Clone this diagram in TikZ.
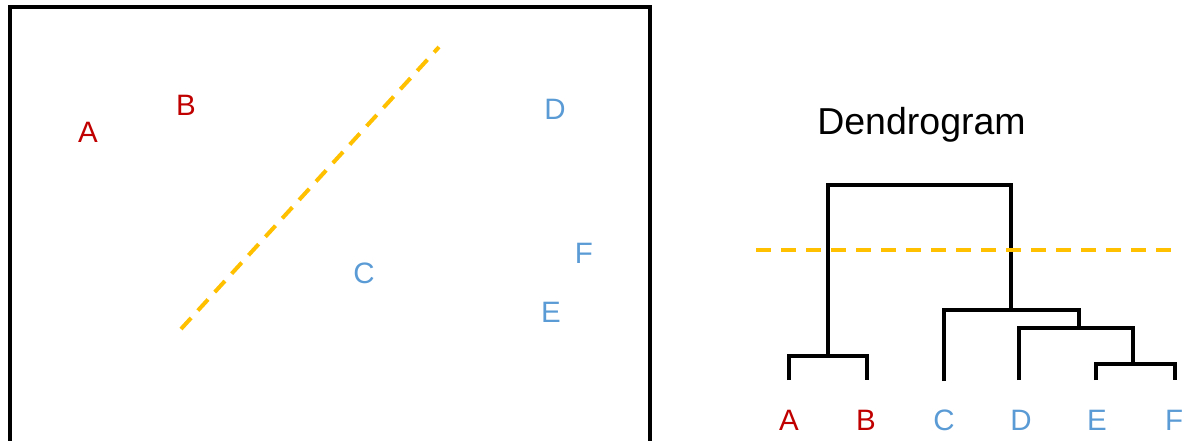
\documentclass[tikz,border=0pt]{standalone}
\usepackage{fontspec}
\setmainfont{Liberation Sans}
\definecolor{clusterred}{HTML}{C00000}
\definecolor{clusterblue}{HTML}{5B9BD5}
\definecolor{cutorange}{HTML}{FFC000}

\begin{document}
\begin{tikzpicture}[x=1pt,y=-1pt,
  letter/.style={font=\fontsize{29.5}{29.5}\selectfont, inner sep=0pt},
  redpt/.style={letter, text=clusterred},
  bluept/.style={letter, text=clusterblue},
  cutline/.style={draw=cutorange, line width=4pt, dash pattern=on 15pt off 10pt},
  link/.style={draw=black, line width=3.5pt, line join=miter},
  frame/.style={draw=black, line width=4.2pt}]

  \useasboundingbox (0,0) rectangle (1188,441);
  \clip (0,0) rectangle (1188,441);

  % scatter panel
  \draw[frame] (10,7) rectangle (650,480);
  \node[redpt]  (pA) at (88,132)  {A};
  \node[redpt]  (pB) at (186,105) {B};
  \node[bluept] (pC) at (364,273) {C};
  \node[bluept] (pD) at (555,109) {D};
  \node[bluept] (pE) at (551,312) {E};
  \node[bluept] (pF) at (584,253) {F};
  \coordinate (cutS) at (181,329);
  \coordinate (cutN) at (439,47);
  \draw[cutline] (cutS) -- (cutN);

  % dendrogram
  \node[font=\fontsize{37.5}{37.5}\selectfont, inner sep=0pt, anchor=base] (title) at (921.5,135) {Dendrogram};

  \node[redpt]  (dA) at (789,420)  {A};
  \node[redpt]  (dB) at (866,420)  {B};
  \node[bluept] (dC) at (944,420)  {C};
  \node[bluept] (dD) at (1021,420) {D};
  \node[bluept] (dE) at (1097,420) {E};
  \node[bluept] (dF) at (1174,420) {F};

  \coordinate (lA) at (789,380);
  \coordinate (lB) at (867,380);
  \coordinate (lC) at (944,381);
  \coordinate (lD) at (1019,380);
  \coordinate (lE) at (1096,380);
  \coordinate (lF) at (1175,380);

  \coordinate (mAB)   at (828,356);
  \coordinate (mEF)   at (1133,364);
  \coordinate (mDEF)  at (1079,328);
  \coordinate (mCDEF) at (1011,310);
  \coordinate (root)  at (920,185);

  \draw[link] (lA) |- (mAB) -| (lB);
  \draw[link] (lE) |- (mEF) -| (lF);
  \draw[link] (lD) |- (mDEF) -| (mEF);
  \draw[link] (lC) |- (mCDEF) -| (mDEF);
  \draw[link] (mAB) |- (root) -| (mCDEF);

  \coordinate (cutW) at (756,250);
  \coordinate (cutE) at (1172,250);
  \draw[cutline] (cutW) -- (cutE);
\end{tikzpicture}
\end{document}
